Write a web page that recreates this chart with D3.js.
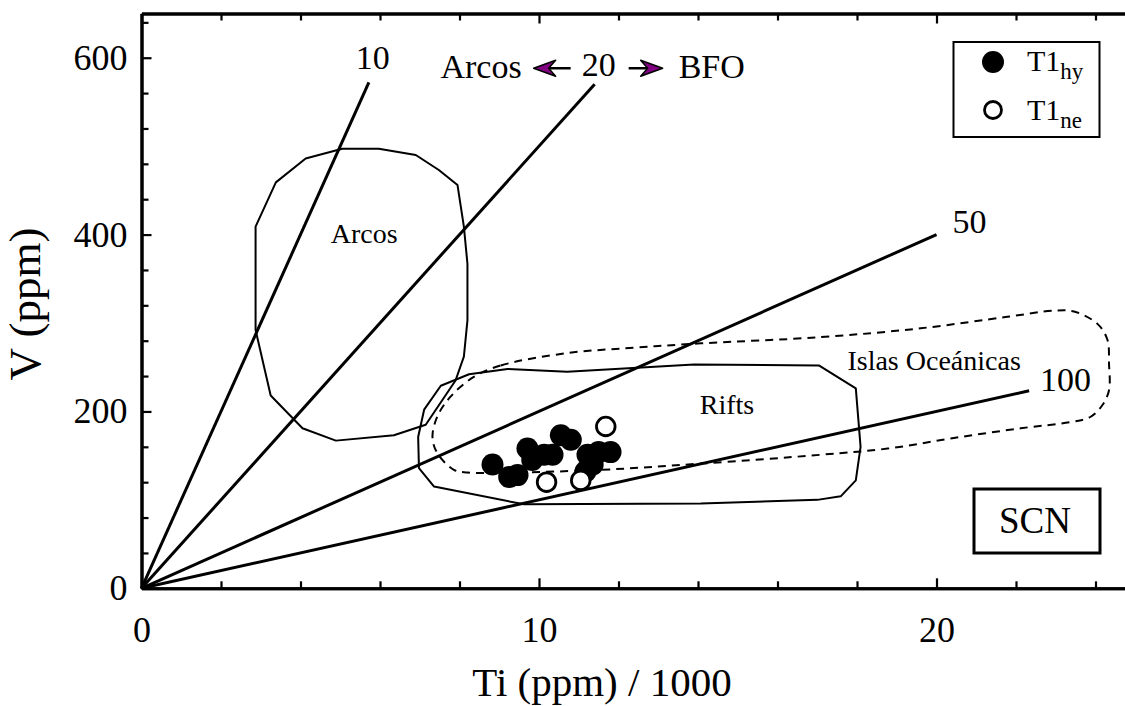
<!DOCTYPE html>
<html><head><meta charset="utf-8">
<script src="https://cdn.jsdelivr.net/npm/d3@7"></script>
<style>
body{margin:0;background:#fff}
svg{display:block}
text{font-family:"Liberation Serif","Times New Roman",Times,serif;fill:#000}
</style>
</head><body>
<svg id="chart" width="1125" height="706"></svg>
<script>
// ---------------- data ----------------
const xDomain = [0, 25];
const yDomain = [0, 650];
const xMajorTicks = [0, 10, 20];
const xMinorTicks = [2, 4, 6, 8, 12, 14, 16, 18, 22, 24];
const yMajorTicks = [0, 200, 400, 600];
const yMinorTicks = [40, 80, 120, 160, 240, 280, 320, 360, 440, 480, 520, 560, 640];

// Ti/V ratio reference lines (V = 1000*Ti/ratio), end Ti of each segment
const ratioValues = [10, 20, 50, 100];
const ratioEndTi = [5.72, 11.4, 20.0, 22.33];

// T1hy (filled) samples
const hyTi = [8.83, 9.25, 9.46, 9.71, 9.83, 10.13, 10.34, 10.55, 10.80, 11.22, 11.17, 11.50, 11.80, 11.35];
const hyV  = [140, 126, 128, 158, 145, 151, 151, 173, 168, 151, 132, 154, 154, 140];
// T1ne (open) samples
const neTi = [11.68, 10.19, 11.05];
const neV  = [183, 120, 122];

// Field outlines
const arcosTi = [5.05, 5.97, 6.90, 7.48, 7.95, 8.11, 8.20, 8.20, 8.11, 7.90, 7.15, 6.35, 4.89, 4.05, 3.25, 2.87, 2.87, 3.38, 4.13];
const arcosV  = [497, 497, 490, 473, 456, 409, 367, 303, 262, 235, 185, 173, 167, 181, 218, 292, 409, 459, 486];

const riftsTi = [7.53, 8.24, 9.21, 10.71, 13.90, 17.04, 17.97, 18.09, 17.97, 17.59, 17.00, 14.07, 9.62, 7.36, 6.98, 6.96, 7.11];
const riftsV  = [229, 242, 248, 245, 253, 252, 226, 160, 122, 104, 100, 96, 95, 115, 136, 171, 202];

const islasTi = [8.36, 9.04, 10.71, 12.38, 14.07, 17.08, 19.60, 21.78, 22.96, 23.46, 24.05, 24.30, 24.34, 24.34, 24.17, 23.88, 23.38, 22.12, 20.44, 18.77, 17.09, 14.07, 11.55, 8.20, 7.86, 7.44, 7.32, 7.44, 7.78];
const islasV  = [239, 252, 266, 272, 277, 284, 294, 307, 314, 313, 299, 281, 254, 224, 207, 194, 188, 181, 170, 158, 151, 141, 134, 131, 134, 153, 171, 194, 217];

const fieldLabels = ["Arcos", "Rifts", "Islas Oceánicas"];
const fieldLabelTi = [5.6, 14.73, 19.94];
const fieldLabelV = [390, 197, 247];

const legendNames = ["T1", "T1"];
const legendSubs = ["hy", "ne"];
const xTitle = "Ti (ppm) / 1000";
const yTitle = "V (ppm)";
const boxLabel = "SCN";

// ---------------- layout ----------------
const svg = d3.select("#chart");
const mLeft = 141.5, mTop = 13.5, mBottom = 588.3;
const pxPerTi = 39.75;
const mRight = mLeft + pxPerTi * (xDomain[1] - xDomain[0]);

const x = d3.scaleLinear().domain(xDomain).range([mLeft, mRight]);
const y = d3.scaleLinear().domain(yDomain).range([mBottom, mTop]);

// ---------------- fields ----------------
const poly = d3.line().x(d => x(d[0])).y(d => y(d[1])).curve(d3.curveLinearClosed);
const smooth = d3.line().x(d => x(d[0])).y(d => y(d[1])).curve(d3.curveCatmullRomClosed.alpha(0.5));

svg.append("path").datum(d3.zip(arcosTi, arcosV)).attr("d", poly)
  .attr("fill", "none").attr("stroke", "#000").attr("stroke-width", 2).attr("stroke-linejoin", "round");
svg.append("path").datum(d3.zip(riftsTi, riftsV)).attr("d", poly)
  .attr("fill", "none").attr("stroke", "#000").attr("stroke-width", 2).attr("stroke-linejoin", "round");
svg.append("path").datum(d3.zip(islasTi, islasV)).attr("d", smooth)
  .attr("fill", "none").attr("stroke", "#000").attr("stroke-width", 2).attr("stroke-dasharray", "8,6");

// ---------------- ratio lines ----------------
ratioValues.forEach((r, i) => {
  const t = ratioEndTi[i], v = 1000 * t / r;
  svg.append("line").attr("x1", x(0)).attr("y1", y(0)).attr("x2", x(t)).attr("y2", y(v))
    .attr("stroke", "#000").attr("stroke-width", 3);
});
// ratio labels
const rl = svg.append("g").attr("font-size", 34);
function endPt(i){ const t = ratioEndTi[i]; return [x(t), y(1000 * t / ratioValues[i])]; }
{
  let p = endPt(0);
  rl.append("text").attr("x", p[0] + 4).attr("y", p[1] - 13).attr("text-anchor", "middle").text(ratioValues[0]);
  p = endPt(1);
  rl.append("text").attr("x", p[0] + 4).attr("y", p[1] - 8).attr("text-anchor", "middle").text(ratioValues[1]);
  rl.append("text").attr("x", p[0] - 73).attr("y", p[1] - 6).attr("text-anchor", "end").text("Arcos");
  rl.append("text").attr("x", p[0] + 84).attr("y", p[1] - 6).attr("text-anchor", "start").text("BFO");
  // arrows
  const ay = p[1] - 16;
  const lx = p[0] - 61, rx = p[0] + 68;
  svg.append("line").attr("x1", lx + 14).attr("y1", ay).attr("x2", lx + 37).attr("y2", ay).attr("stroke", "#000").attr("stroke-width", 2.5);
  svg.append("path").attr("d", `M${lx},${ay} L${lx + 22},${ay - 8} L${lx + 15},${ay} L${lx + 22},${ay + 8} Z`)
    .attr("fill", "#800080").attr("stroke", "#000").attr("stroke-width", 1.5).attr("stroke-linejoin", "round");
  svg.append("line").attr("x1", rx - 34).attr("y1", ay).attr("x2", rx - 14).attr("y2", ay).attr("stroke", "#000").attr("stroke-width", 2.5);
  svg.append("path").attr("d", `M${rx},${ay} L${rx - 22},${ay - 8} L${rx - 15},${ay} L${rx - 22},${ay + 8} Z`)
    .attr("fill", "#800080").attr("stroke", "#000").attr("stroke-width", 1.5).attr("stroke-linejoin", "round");
  p = endPt(2);
  rl.append("text").attr("x", p[0] + 16).attr("y", p[1] - 2).attr("text-anchor", "start").text(ratioValues[2]);
  p = endPt(3);
  rl.append("text").attr("x", p[0] + 11).attr("y", p[1]).attr("text-anchor", "start").text(ratioValues[3]);
}

// field labels
fieldLabels.forEach((s, i) => {
  svg.append("text").attr("x", x(fieldLabelTi[i])).attr("y", y(fieldLabelV[i]))
    .attr("text-anchor", "middle").attr("font-size", 28).text(s);
});

// ---------------- points ----------------
svg.append("g").selectAll("circle").data(d3.zip(hyTi, hyV)).join("circle")
  .attr("cx", d => x(d[0])).attr("cy", d => y(d[1])).attr("r", 11).attr("fill", "#000");
svg.append("g").selectAll("circle").data(d3.zip(neTi, neV)).join("circle")
  .attr("cx", d => x(d[0])).attr("cy", d => y(d[1])).attr("r", 9.3)
  .attr("fill", "#fff").attr("stroke", "#000").attr("stroke-width", 2.8);

// ---------------- axes ----------------
function styleAxis(g){ g.attr("font-family", null); g.select(".domain").attr("stroke-width", 3); g.selectAll(".tick line").attr("stroke-width", 2.2); }
const fontAxis = 36;
svg.append("g").attr("transform", `translate(0,${mBottom})`)
  .call(d3.axisBottom(x).tickValues(xMajorTicks).tickSizeInner(-10).tickSizeOuter(0).tickPadding(28).tickFormat(d3.format("d")))
  .call(styleAxis).call(g => g.selectAll("text").attr("font-size", fontAxis));
svg.append("g").attr("transform", `translate(0,${mBottom})`)
  .call(d3.axisBottom(x).tickValues(xMinorTicks).tickSizeInner(-7).tickSizeOuter(0).tickFormat(""))
  .call(styleAxis);
svg.append("g").attr("transform", `translate(0,${mTop})`)
  .call(d3.axisTop(x).tickValues(xMajorTicks).tickSizeInner(-10).tickSizeOuter(0).tickFormat(""))
  .call(styleAxis);
svg.append("g").attr("transform", `translate(0,${mTop})`)
  .call(d3.axisTop(x).tickValues(xMinorTicks).tickSizeInner(-7).tickSizeOuter(0).tickFormat(""))
  .call(styleAxis);
svg.append("g").attr("transform", `translate(${mLeft},0)`)
  .call(d3.axisLeft(y).tickValues(yMajorTicks).tickSizeInner(-10).tickSizeOuter(0).tickPadding(14).tickFormat(d3.format("d")))
  .call(styleAxis).call(g => g.selectAll("text").attr("font-size", fontAxis));
svg.append("g").attr("transform", `translate(${mLeft},0)`)
  .call(d3.axisLeft(y).tickValues(yMinorTicks).tickSizeInner(-7).tickSizeOuter(0).tickFormat(""))
  .call(styleAxis);
svg.append("g").attr("transform", `translate(${mRight},0)`)
  .call(d3.axisRight(y).tickValues(yMajorTicks).tickSizeInner(-10).tickSizeOuter(0).tickFormat(""))
  .call(styleAxis);
svg.append("g").attr("transform", `translate(${mRight},0)`)
  .call(d3.axisRight(y).tickValues(yMinorTicks).tickSizeInner(-7).tickSizeOuter(0).tickFormat(""))
  .call(styleAxis);
svg.selectAll(".tick text").attr("fill", "#000");
svg.selectAll(".domain, .tick line").attr("stroke", "#000");

// axis titles
svg.append("text").attr("x", 602).attr("y", 696).attr("text-anchor", "middle")
  .attr("font-size", 41).text(xTitle);
svg.append("text").attr("transform", `translate(40,${304}) rotate(-90)`).attr("text-anchor", "middle")
  .attr("font-size", 45).text(yTitle);

// ---------------- legend ----------------
const lg = svg.append("g");
lg.append("rect").attr("x", 953.5).attr("y", 42).attr("width", 146).attr("height", 95)
  .attr("fill", "#fff").attr("stroke", "#000").attr("stroke-width", 2);
lg.append("circle").attr("cx", 993).attr("cy", 62).attr("r", 11).attr("fill", "#000");
lg.append("circle").attr("cx", 993).attr("cy", 110).attr("r", 8.5).attr("fill", "#fff").attr("stroke", "#000").attr("stroke-width", 2.8);
legendNames.forEach((n, i) => {
  const t = lg.append("text").attr("x", 1027).attr("y", 71 + i * 49).attr("font-size", 30);
  t.append("tspan").text(n);
  t.append("tspan").attr("dy", 8).attr("font-size", 23).text(legendSubs[i]);
});

// SCN box
svg.append("rect").attr("x", 974).attr("y", 489).attr("width", 126).attr("height", 64)
  .attr("fill", "#fff").attr("stroke", "#000").attr("stroke-width", 3);
svg.append("text").attr("x", 1035).attr("y", 533).attr("text-anchor", "middle").attr("font-size", 37).text(boxLabel);
</script>
</body></html>
